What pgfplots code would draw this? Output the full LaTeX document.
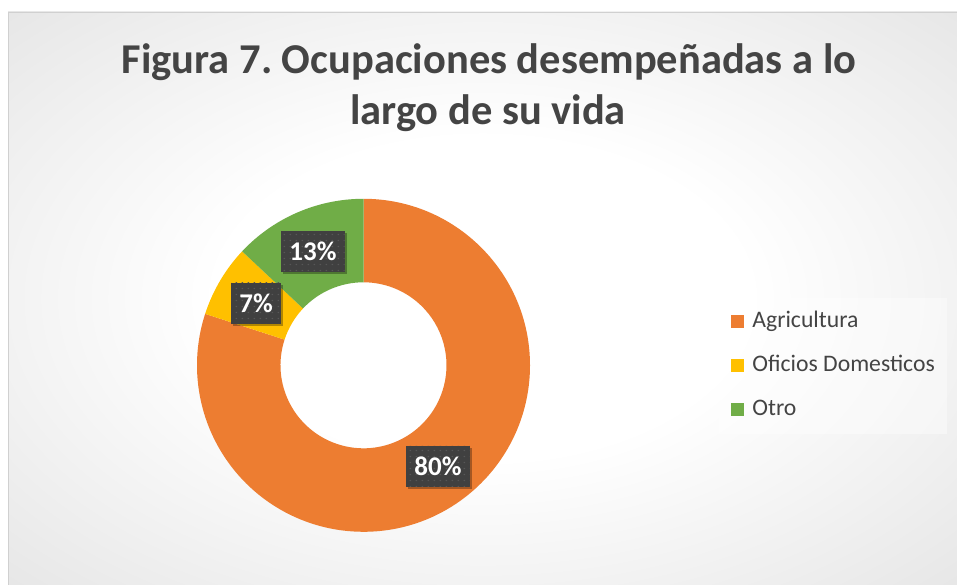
\documentclass[border=0pt]{standalone}
\usepackage{pgfplots}
\pgfplotsset{compat=1.18}
\usepackage{pgfplotstable}
\usepackage{fontspec}
\setmainfont{Carlito}
\usetikzlibrary{shadows,patterns.meta}

\definecolor{cA}{HTML}{ED7D31}
\definecolor{cB}{HTML}{FFC000}
\definecolor{cC}{HTML}{70AD47}
\definecolor{titlegray}{HTML}{444444}
\definecolor{legtext}{HTML}{444444}
\definecolor{boxgray}{HTML}{404040}
\definecolor{dotgray}{HTML}{575757}
\definecolor{framegray}{HTML}{D0D0D0}

\pgfdeclareradialshading{bgshade}{\pgfpoint{0bp}{0bp}}{%
  color(0bp)=(white); color(14bp)=(white); color(50bp)=(black!16); color(72bp)=(black!24)}

\tikzdeclarepattern{name=lbldots, type=uncolored,
  bounding box={(0pt,0pt) and (6pt,6pt)}, tile size={(6pt,6pt)},
  code={\fill (2pt,2pt) rectangle (3.5pt,3.5pt);}}

\tikzset{lbl/.style={fill=boxgray, text=white, font=\bfseries\fontsize{27pt}{32pt}\selectfont,
    inner xsep=8pt, inner ysep=0pt, minimum height=41pt,
    drop shadow={shadow xshift=2pt, shadow yshift=-2pt, opacity=0.3, fill=black},
    postaction={pattern={lbldots}, pattern color=dotgray}}}

% name, value, label offset (x,y) from the centre in pt, colour
\pgfplotstableread[col sep=comma]{
name,value,lx,ly,col
Agricultura,80,74.5,-101.2,cA
Oficios Domesticos,7,-107.5,62,cB
Otro,13,-50.5,114,cC
}\data

\begin{document}
\frenchspacing
\begin{tikzpicture}
\useasboundingbox (0pt,0pt) rectangle (957pt,585pt);
\fill[white] (0pt,0pt) rectangle (957pt,585pt);
\shade[shading=bgshade] (8pt,0pt) rectangle (957pt,573pt);
\draw[framegray, line width=1pt] (8.5pt,-1pt) -- (8.5pt,572.5pt) -- (958pt,572.5pt);

% angles from the data
\def\total{0}
\pgfplotsforeachungrouped \i in {0,1,2}{%
  \pgfplotstablegetelem{\i}{value}\of\data
  \pgfmathsetmacro\total{\total+\pgfplotsretval}}
\def\cum{0}
\pgfplotsforeachungrouped \i in {0,1,2}{%
  \pgfplotstablegetelem{\i}{value}\of\data
  \let\v\pgfplotsretval
  \pgfmathsetmacro\sa{90-360*(\cum/\total)}
  \pgfmathsetmacro\cum{\cum+\v}
  \pgfmathsetmacro\ea{90-360*(\cum/\total)}
  \pgfmathtruncatemacro\pc{round(100*(\v/\total))}
  \expandafter\xdef\csname sa\i\endcsname{\sa}
  \expandafter\xdef\csname ea\i\endcsname{\ea}
  \expandafter\xdef\csname pc\i\endcsname{\pc}
}

\node[anchor=base, text=titlegray, font=\bfseries\fontsize{42.5pt}{50pt}\selectfont]
  at (489pt,511.7pt) {Figura 7. Ocupaciones desempeñadas a lo};
\node[anchor=base, text=titlegray, font=\bfseries\fontsize{42.5pt}{50pt}\selectfont]
  at (488pt,460pt) {largo de su vida};

\begin{axis}[
  at={(363.5pt,219.7pt)}, anchor=center,
  x=1pt, y=1pt, xmin=-175, xmax=175, ymin=-175, ymax=175,
  hide axis, clip=false,
  legend image code/.code={\fill[#1, draw=none, fill opacity=1] (0pt,-6.8pt) rectangle (13.8pt,6.8pt);},
  legend cell align=left,
  legend style={
    at={(1.514,0.694)}, anchor=north west,
    draw=none, fill=white, fill opacity=0.4, text opacity=1,
    inner xsep=12pt, inner ysep=13pt,
    font=\fontsize{23.7pt}{28pt}\selectfont, text=legtext,
    row sep=22pt,
    nodes={inner sep=0pt, text height=17pt, text depth=5pt},
    /tikz/every odd column/.append style={column sep=8pt},
  },
]
\pgfplotsinvokeforeach{0,1,2}{%
  \pgfplotstablegetelem{#1}{col}\of\data
  \let\colr\pgfplotsretval
  \edef\tmp{\noexpand\fill[\colr]
    ([shift={(\csname sa#1\endcsname:166.5pt)}]axis cs:0,0)
    arc[start angle=\csname sa#1\endcsname, end angle=\csname ea#1\endcsname, radius=166.5pt]
    -- ([shift={(\csname ea#1\endcsname:83pt)}]axis cs:0,0)
    arc[start angle=\csname ea#1\endcsname, end angle=\csname sa#1\endcsname, radius=83pt]
    -- cycle;}%
  \tmp
}
\pgfplotsinvokeforeach{0,1,2}{%
  \pgfplotstablegetelem{#1}{lx}\of\data \let\lx\pgfplotsretval
  \pgfplotstablegetelem{#1}{ly}\of\data \let\ly\pgfplotsretval
  \edef\tmp{\noexpand\node[lbl] at (axis cs:\lx,\ly) {\csname pc#1\endcsname\noexpand\%};}%
  \tmp
}
\addlegendimage{fill=cA}
\addlegendentry{Agricultura}
\addlegendimage{fill=cB}
\addlegendentry{Oficios Domesticos}
\addlegendimage{fill=cC}
\addlegendentry{Otro}
\end{axis}
\end{tikzpicture}
\end{document}
